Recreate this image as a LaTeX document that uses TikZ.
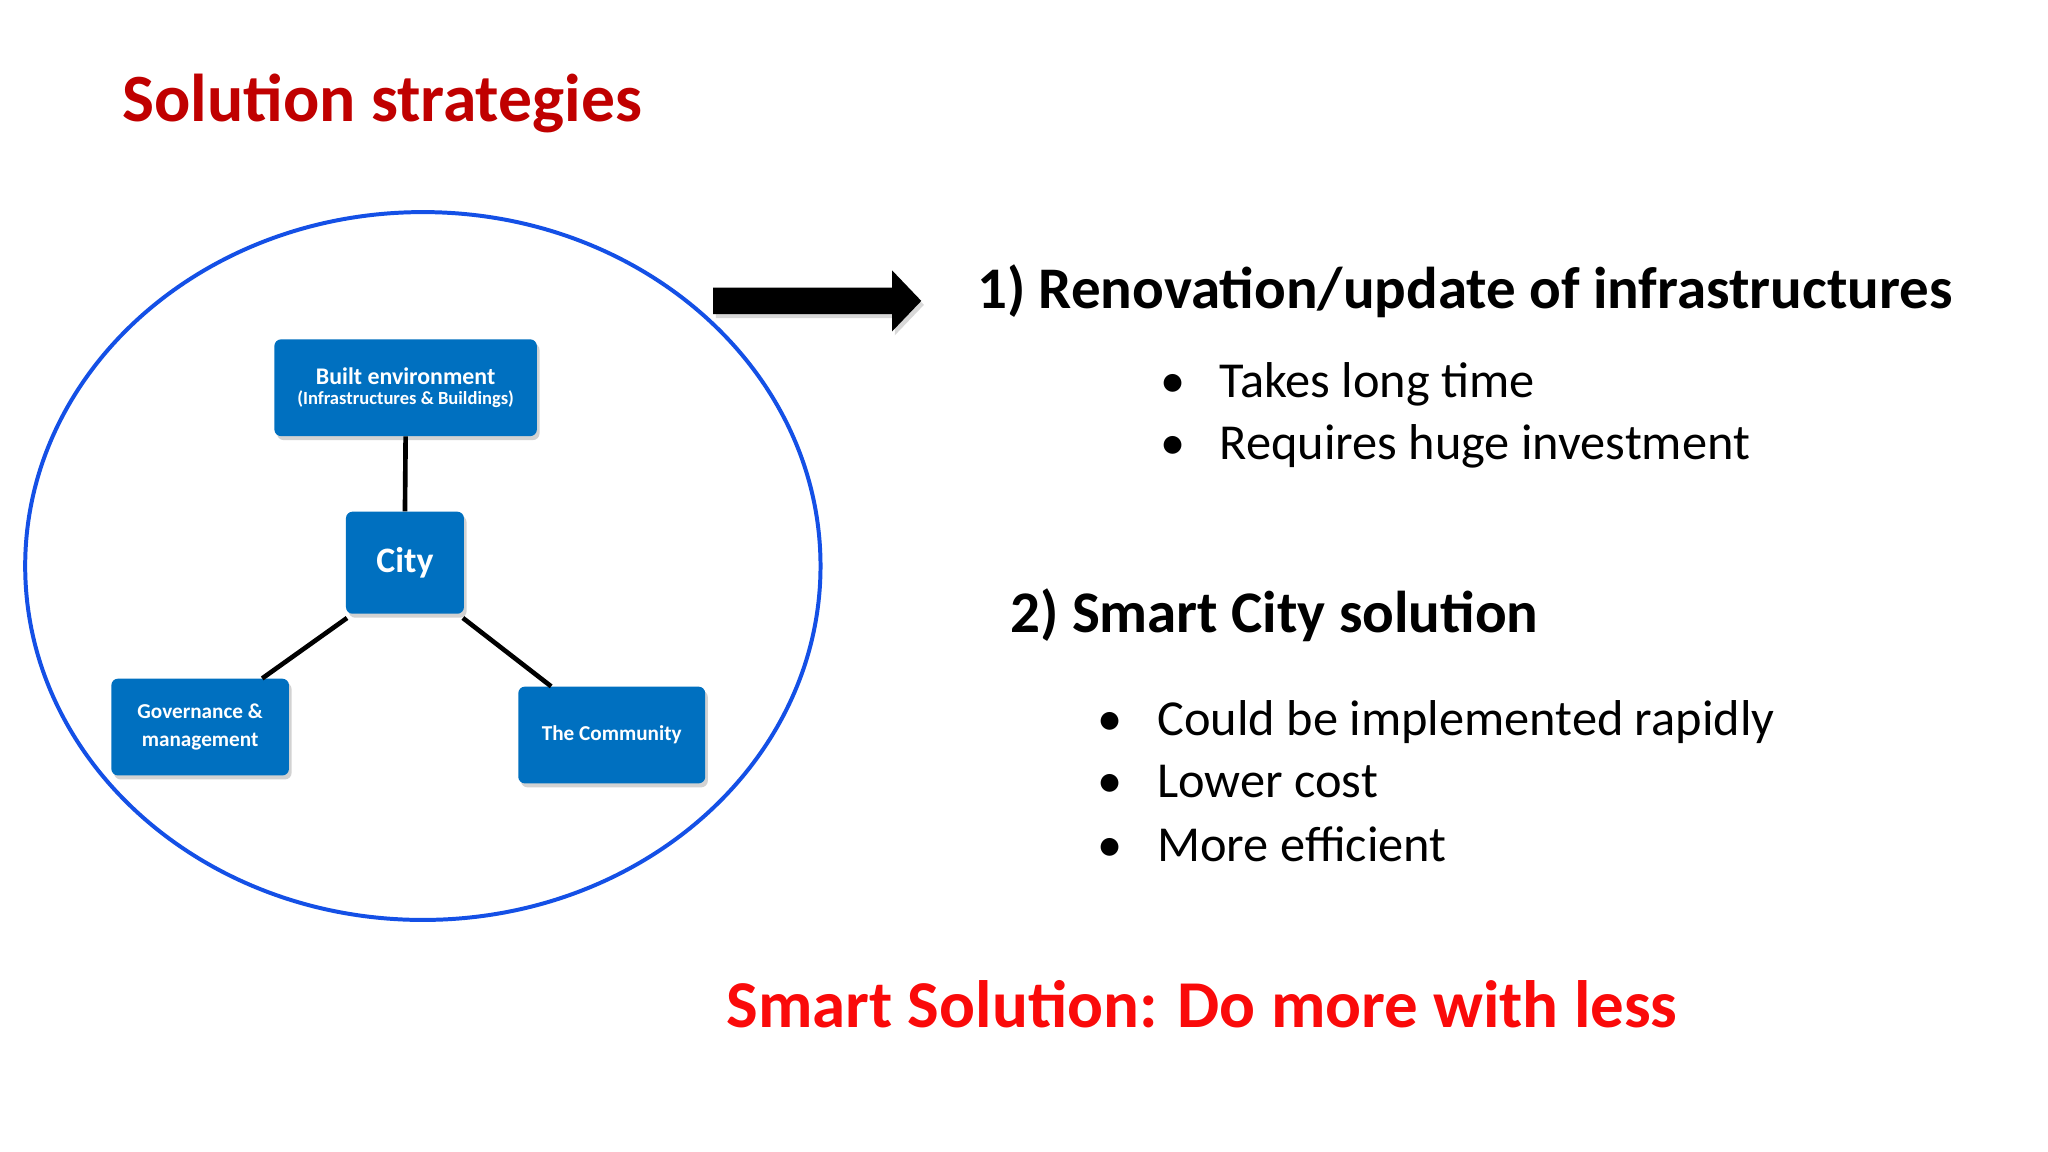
\documentclass[tikz,border=0pt]{standalone}
\usepackage{fontspec}
\setmainfont{Carlito}
\usetikzlibrary{shadows,arrows.meta}
\definecolor{boxblue}{RGB}{0,112,192}
\definecolor{ringblue}{RGB}{20,80,230}
\definecolor{darkred}{RGB}{192,0,0}
\definecolor{brightred}{RGB}{250,10,10}
\tikzset{
 cbox/.style={fill=boxblue,rounded corners=5pt,text=white,font=\bfseries,align=center,inner sep=0pt,drop shadow={shadow xshift=2pt,shadow yshift=-3pt,opacity=0.35}},
 link/.style={line width=3.5pt,black},
 txt/.style={anchor=base west,inner sep=0pt},
}
\begin{document}
\begin{tikzpicture}[x=1pt,y=-1pt]
\useasboundingbox[fill=white] (0,0) rectangle (1545,869);
\draw[ringblue,line width=3pt] (319,427) ellipse [x radius=300,y radius=267];
\node[cbox,minimum width=198pt,minimum height=73pt] (built) at (306,292.5)
 {\fontsize{18}{22}\selectfont Built environment\\[3pt]\fontsize{14}{17}\selectfont (Infrastructures \& Buildings)};
\node[cbox,minimum width=89pt,minimum height=77pt,font=\bfseries\fontsize{27}{32}\selectfont] (city) at (305.5,424.5) {City};
\node[cbox,minimum width=134pt,minimum height=73pt,font=\bfseries\fontsize{16}{21}\selectfont] (gov) at (151,548.5) {Governance \&\\management};
\node[cbox,minimum width=141pt,minimum height=73pt,font=\bfseries\fontsize{16}{21}\selectfont] (com) at (461.5,554.5) {The Community};
\draw[link] (built.south) -- (city.north);
\draw[link] ([xshift=1pt,yshift=-3pt]city.south west) -- ([xshift=114pt]gov.north west);
\draw[link] ([xshift=-1pt,yshift=-3pt]city.south east) -- ([xshift=25pt]com.north west);
\fill[black,drop shadow={shadow xshift=2pt,shadow yshift=-3pt,opacity=0.3}] (538,217) -- (673,217) -- (673,204) -- (695,227) -- (673,250) -- (673,237) -- (538,237) -- cycle;
\node[txt,text=darkred,font=\bfseries\fontsize{51}{55}\selectfont] (title) at (92,92) {Solution strategies};
\node[txt,font=\bfseries\fontsize{44.5}{48}\selectfont] (h1) at (737,233) {1) Renovation/update of infrastructures};
\node[txt,font=\fontsize{38}{42}\selectfont] (b1) at (875,300) {•\hspace{26pt}Takes long time};
\node[txt,font=\fontsize{38}{42}\selectfont] (b2) at (875,347) {•\hspace{26pt}Requires huge investment};
\node[txt,font=\bfseries\fontsize{44.5}{48}\selectfont] (h2) at (762,477) {2) Smart City solution};
\node[txt,font=\fontsize{38}{42}\selectfont] (c1) at (828,555) {•\hspace{26pt}Could be implemented rapidly};
\node[txt,font=\fontsize{38}{42}\selectfont] (c2) at (828,602) {•\hspace{26pt}Lower cost};
\node[txt,font=\fontsize{38}{42}\selectfont] (c3) at (828,650) {•\hspace{26pt}More efficient};
\node[txt,text=brightred,font=\bfseries\fontsize{50.5}{55}\selectfont] (bottom) at (548,775) {Smart Solution: Do more with less};
\end{tikzpicture}
\end{document}
